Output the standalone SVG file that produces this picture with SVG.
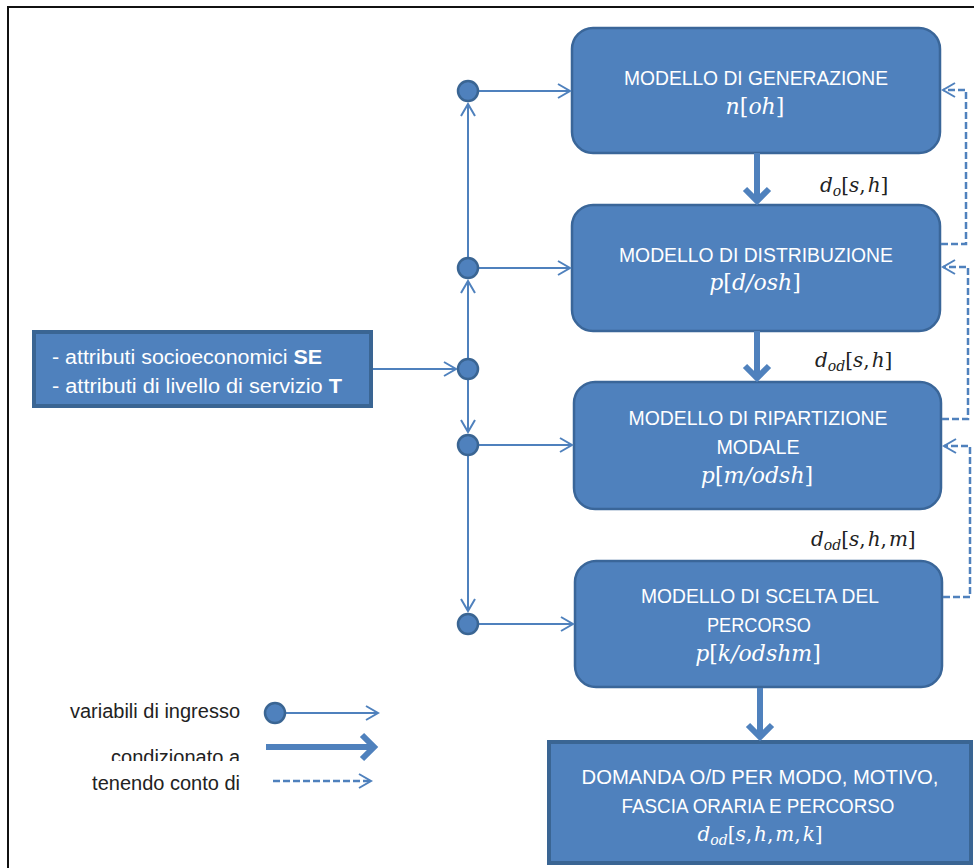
<svg xmlns="http://www.w3.org/2000/svg" width="974" height="868" viewBox="0 0 974 868">
<defs>
<style>
.box{fill:#4F81BD;stroke:#3A6699;stroke-width:2.5}
.sq{fill:#4F81BD;stroke:#3A6593;stroke-width:4}
.t{font-family:"Liberation Sans",Arial,sans-serif;font-size:20.5px;fill:#fff;text-anchor:middle}
.tl{font-family:"Liberation Sans",Arial,sans-serif;font-size:20px;fill:#fff}
.lg{font-family:"Liberation Sans",Arial,sans-serif;font-size:20px;fill:#222;text-anchor:end}
.m{font-family:"DejaVu Serif","Liberation Serif",serif;font-size:22px;font-style:italic;fill:#fff;text-anchor:middle}
.ml{font-family:"DejaVu Serif","Liberation Serif",serif;font-size:20px;font-style:italic;fill:#222}
.up{font-style:normal}
.sub{font-size:14px}
.thin{fill:none;stroke:#4F81BD;stroke-width:2;marker-end:url(#ah)}
.thick{fill:none;stroke:#4F81BD;stroke-width:6;marker-end:url(#ahT)}
.dash{fill:none;stroke:#4F81BD;stroke-width:2.5;stroke-dasharray:7 3;marker-end:url(#ah)}
.dot{fill:#4F81BD;stroke:#3A6593;stroke-width:2.5}
</style>
<marker id="ah" viewBox="-14 -9 16 18" markerWidth="16" markerHeight="18" refX="0" refY="0" orient="auto" markerUnits="userSpaceOnUse" overflow="visible">
<path d="M-12,-7 L0,0 L-12,7" fill="none" stroke="#4F81BD" stroke-width="2"/>
</marker>
<marker id="ahT" viewBox="-16 -16 22 32" markerWidth="22" markerHeight="32" refX="0" refY="0" orient="auto" markerUnits="userSpaceOnUse" overflow="visible">
<path d="M-12,-12 L0,0 L-12,12" fill="none" stroke="#4F81BD" stroke-width="6"/>
</marker>
<clipPath id="clipCond"><rect x="100" y="740" width="150" height="21"/></clipPath>
</defs>

<rect x="0" y="0" width="974" height="868" fill="#fff"/>
<path d="M8,868 V7 H974" fill="none" stroke="#111" stroke-width="2"/>

<g id="se-box">
<rect class="sq" x="34" y="332" width="337" height="74"/>
<text class="tl" x="52" y="364" textLength="270" lengthAdjust="spacingAndGlyphs">- attributi socioeconomici <tspan font-weight="bold">SE</tspan></text>
<text class="tl" x="52" y="393" textLength="290" lengthAdjust="spacingAndGlyphs">- attributi di livello di servizio <tspan font-weight="bold">T</tspan></text>
</g>

<g id="generazione">
<rect class="box" x="572" y="28" width="368" height="125" rx="21"/>
<text class="t" x="756" y="85" textLength="264" lengthAdjust="spacingAndGlyphs">MODELLO DI GENERAZIONE</text>
<text class="m" x="755" y="114">n<tspan class="up">[</tspan>oh<tspan class="up">]</tspan></text>
</g>

<g id="distribuzione">
<rect class="box" x="572" y="205" width="368" height="126" rx="21"/>
<text class="t" x="756" y="262" textLength="274" lengthAdjust="spacingAndGlyphs">MODELLO DI DISTRIBUZIONE</text>
<text class="m" x="755" y="290">p<tspan class="up">[</tspan>d/osh<tspan class="up">]</tspan></text>
</g>

<g id="ripartizione">
<rect class="box" x="574" y="382" width="367" height="127" rx="21"/>
<text class="t" x="758" y="425" textLength="259" lengthAdjust="spacingAndGlyphs">MODELLO DI RIPARTIZIONE</text>
<text class="t" x="758" y="454" textLength="83" lengthAdjust="spacingAndGlyphs">MODALE</text>
<text class="m" x="757" y="483">p<tspan class="up">[</tspan>m/odsh<tspan class="up">]</tspan></text>
</g>

<g id="scelta-percorso">
<rect class="box" x="575" y="561" width="367" height="126" rx="21"/>
<text class="t" x="760" y="603" textLength="238" lengthAdjust="spacingAndGlyphs">MODELLO DI SCELTA DEL</text>
<text class="t" x="759" y="632" textLength="104" lengthAdjust="spacingAndGlyphs">PERCORSO</text>
<text class="m" x="758" y="661">p<tspan class="up">[</tspan>k/odshm<tspan class="up">]</tspan></text>
</g>

<g id="domanda">
<rect class="sq" x="549" y="742" width="422" height="121"/>
<text class="t" x="760" y="784" textLength="357" lengthAdjust="spacingAndGlyphs">DOMANDA O/D PER MODO, MOTIVO,</text>
<text class="t" x="758" y="813" textLength="273" lengthAdjust="spacingAndGlyphs">FASCIA ORARIA E PERCORSO</text>
<text class="m" x="760" y="841" style="font-size:20px">d<tspan class="sub" dy="4">od</tspan><tspan class="up" dy="-4">[</tspan>s<tspan class="up">,</tspan><tspan dx="2">h</tspan><tspan class="up">,</tspan><tspan dx="2">m</tspan><tspan class="up">,</tspan><tspan dx="2">k</tspan><tspan class="up">]</tspan></text>
</g>

<g id="labels">
<text class="ml" x="820" y="192">d<tspan class="sub" dy="4">o</tspan><tspan class="up" dy="-4">[</tspan>s<tspan class="up">,</tspan><tspan dx="2">h</tspan><tspan class="up">]</tspan></text>
<text class="ml" x="815" y="367">d<tspan class="sub" dy="4">od</tspan><tspan class="up" dy="-4">[</tspan>s<tspan class="up">,</tspan><tspan dx="2">h</tspan><tspan class="up">]</tspan></text>
<text class="ml" x="811" y="546">d<tspan class="sub" dy="4">od</tspan><tspan class="up" dy="-4">[</tspan>s<tspan class="up">,</tspan><tspan dx="2">h</tspan><tspan class="up">,</tspan><tspan dx="2">m</tspan><tspan class="up">]</tspan></text>
</g>

<g id="connectors">
<path class="thick" d="M757,153 V201"/>
<path class="thick" d="M757,331 V378"/>
<path class="thick" d="M760,688 V737"/>
<path class="thin" d="M468,358 V281"/>
<path class="thin" d="M468,257 V104"/>
<path class="thin" d="M468,380 V432"/>
<path class="thin" d="M468,456 V611"/>
<path class="thin" d="M479,91 H570"/>
<path class="thin" d="M479,268 H570"/>
<path class="thin" d="M479,445 H572"/>
<path class="thin" d="M479,624 H573"/>
<path class="thin" d="M373,369 H456"/>
<path class="dash" d="M941,244 H966 V90 H943"/>
<path class="dash" d="M942,419 H968 V267 H943"/>
<path class="dash" d="M943,597 H970 V446 H944"/>
</g>

<g id="junctions">
<circle class="dot" cx="468" cy="91" r="10"/>
<circle class="dot" cx="468" cy="268" r="10"/>
<circle class="dot" cx="468" cy="369" r="10"/>
<circle class="dot" cx="468" cy="445" r="10"/>
<circle class="dot" cx="468" cy="624" r="10"/>
</g>

<g id="legend">
<text class="lg" x="240" y="718">variabili di ingresso</text>
<path class="thin" d="M285,713 H378"/>
<circle class="dot" cx="275" cy="713" r="10"/>
<text class="lg" x="240" y="764" clip-path="url(#clipCond)">condizionato a</text>
<path class="thick" d="M266,747 H374"/>
<text class="lg" x="240" y="790">tenendo conto di</text>
<path class="dash" d="M273,781 H371"/>
</g>
</svg>
